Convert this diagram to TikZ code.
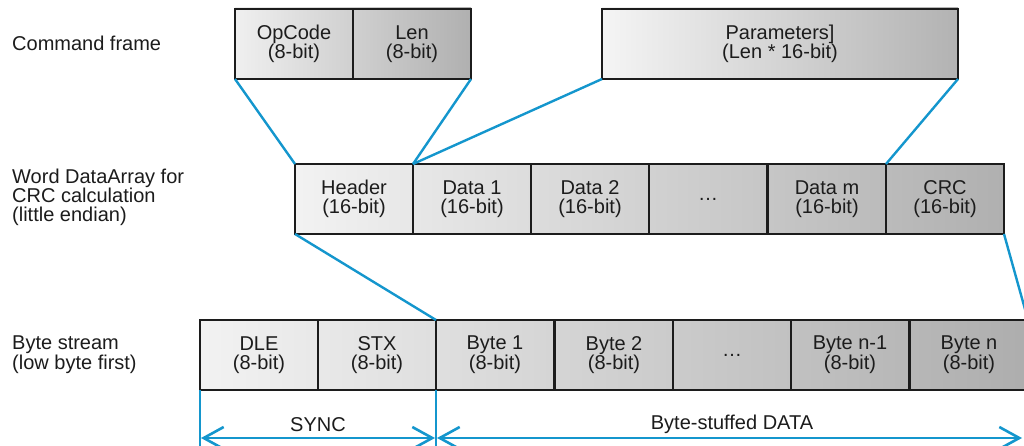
\documentclass[tikz,border=0pt]{standalone}
\usepackage{fontspec}
\setmainfont{Liberation Sans}
\usetikzlibrary{arrows.meta,calc}
\definecolor{wire}{RGB}{20,150,205}
\definecolor{ink}{RGB}{28,28,28}
\begin{document}
\begin{tikzpicture}[x=1pt,y=-1pt,
  cell/.style={draw=ink,line width=2.6pt,minimum width=118pt,minimum height=70pt,
    inner sep=0pt,outer sep=0pt,align=center,text=ink,
    font=\fontsize{20}{18.5}\selectfont},
  lbl/.style={anchor=west,align=left,inner sep=0pt,text=ink,font=\fontsize{20}{18.5}\selectfont},
  link/.style={draw=wire,line width=2.4pt},
  dim/.style={draw=wire,line width=1.4pt},
  dimarrow/.style={draw=wire,line width=2.6pt,{Straight Barb[length=20pt,width=22pt,line width=2.6pt]}-{Straight Barb[length=20pt,width=22pt,line width=2.6pt]}}
]
\useasboundingbox (0,0) rectangle (1024,446);

% shaded backgrounds
\shade[left color=black!6,middle color=black!10,right color=black!31] (235,8) rectangle (471,78);
\shade[left color=black!4,middle color=black!12,right color=black!30] (602,8) rectangle (958,78);
\shade[left color=black!5,middle color=black!12,right color=black!31] (295,164) rectangle (1004,234);
\shade[left color=black!5,middle color=black!12,right color=black!32] (200,320) rectangle (1028,390);

% row labels
\node[lbl] (lA) at (12,43) {Command frame};
\node[lbl] (lB) at (12,197) {Word DataArray for\\CRC calculation\\(little endian)};
\node[lbl] (lC) at (12,355) {Byte stream\\(low byte first)};

% Command frame
\node[cell] (op) at (294,44) {OpCode\\(8-bit)};
\node[cell] (len) at (412,44) {Len\\(8-bit)};
\node[cell,minimum width=356pt] (par) at (780,44) {Parameters]\\(Len * 16-bit)};

% Word data array
\node[cell] (hdr) at (354,199) {Header\\(16-bit)};
\node[cell] (d1) at (472,199) {Data 1\\(16-bit)};
\node[cell] (d2) at (590,199) {Data 2\\(16-bit)};
\node[cell] (dd) at (708,199) {\dots};
\node[cell] (dm) at (827,199) {Data m\\(16-bit)};
\node[cell] (crc) at (945,199) {CRC\\(16-bit)};

% Byte stream
\node[cell] (dle) at (259,355) {DLE\\(8-bit)};
\node[cell] (stx) at (377,355) {STX\\(8-bit)};
\node[cell] (b1) at (495,355) {Byte 1\\(8-bit)};
\node[cell] (b2) at (614,355) {Byte 2\\(8-bit)};
\node[cell] (bd) at (732,355) {\dots};
\node[cell] (bn1) at (850,355) {Byte n-1\\(8-bit)};
\node[cell] (bn) at (969,355) {Byte n\\(8-bit)};

% mapping lines
\draw[link] (op.south west) -- (hdr.north west);
\draw[link] (len.south east) -- (hdr.north east);
\draw[link] (par.south west) -- (d1.north west);
\draw[link] (par.south east) -- (dm.north east);
\draw[link] (hdr.south west) -- (b1.north west);
\draw[link] (crc.south east) -- (bn.north east);

% dimension lines
\coordinate (s0) at ($(dle.south west)+(0,56)$);
\coordinate (s1) at ($(stx.south east)+(0,56)$);
\draw[dim] (dle.south west) -- (s0);
\draw[dim] (stx.south east) -- (s1);
\coordinate (a0) at (201,438);
\coordinate (a1) at (435,438);
\coordinate (a2) at (437,438);
\coordinate (a3) at (1022,438);
\draw[dimarrow] (a0) -- (a1);
\draw[dimarrow] (a2) -- (a3);
\node[text=ink,font=\fontsize{20}{18}\selectfont] (sync) at (318,425) {SYNC};
\node[text=ink,font=\fontsize{20}{18}\selectfont] (bsd) at (732,424) {Byte-stuffed DATA};
\end{tikzpicture}
\end{document}
